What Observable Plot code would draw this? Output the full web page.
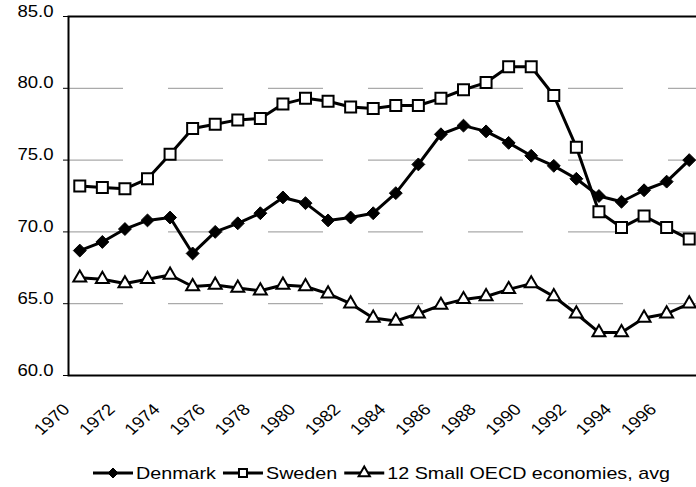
<!DOCTYPE html>
<html><head><meta charset="utf-8">
<script src="https://cdn.jsdelivr.net/npm/d3@7"></script>
<script src="https://cdn.jsdelivr.net/npm/@observablehq/plot@0.6"></script>
<style>
html,body{margin:0;padding:0;background:#fff;}
#chart{width:696px;height:487px;position:relative;overflow:hidden;font-family:"Liberation Sans",Arial,sans-serif;background:#fff;}
svg{display:block;}
</style></head><body><div id="chart"></div>
<script>
const years = [1970,1971,1972,1973,1974,1975,1976,1977,1978,1979,1980,1981,1982,1983,1984,1985,1986,1987,1988,1989,1990,1991,1992,1993,1994,1995,1996,1997];
const labelYears = [1970,1972,1974,1976,1978,1980,1982,1984,1986,1988,1990,1992,1994,1996];
const yTicks = [60,65,70,75,80,85];
const gridValues = [65,70,75,80];
const seriesNames = ["Denmark","Sweden","12 Small OECD economies, avg"];
const denmark = [68.7,69.3,70.2,70.8,71.0,68.5,70.0,70.6,71.3,72.4,72.0,70.8,71.0,71.3,72.7,74.7,76.8,77.4,77.0,76.2,75.3,74.6,73.7,72.5,72.1,72.9,73.5,75.0];
const sweden = [73.2,73.1,73.0,73.7,75.4,77.2,77.5,77.8,77.9,78.9,79.3,79.1,78.7,78.6,78.8,78.8,79.3,79.9,80.4,81.5,81.5,79.5,75.9,71.4,70.3,71.1,70.3,69.5];
const oecd = [66.8,66.7,66.4,66.7,67.0,66.2,66.3,66.1,65.9,66.3,66.2,65.7,65.0,64.0,63.8,64.3,64.9,65.3,65.5,66.0,66.4,65.5,64.3,63.0,63.0,64.0,64.3,65.0];

const seriesValues = [denmark, sweden, oecd];
const rows = [];
seriesNames.forEach((name, s) => years.forEach((yr, i) => rows.push({series: name, year: yr, value: seriesValues[s][i]})));

const STRETCH = 1.16;
const FONT = "'Liberation Sans', Arial, sans-serif";
const styles = [
  {symbol: "diamond2", r: 5.8, fill: "#000", strokeWidth: 1, legSym: d3.symbolDiamond2, legSize: 64},
  {symbol: "square", r: 6.2, fill: "#fff", strokeWidth: 2, legSym: d3.symbolSquare, legSize: 64},
  {symbol: "triangle", r: 4.8, fill: "#fff", strokeWidth: 2, legSym: d3.symbolTriangle, legSize: 55}
];

const seriesMarks = [];
seriesNames.forEach((name, s) => {
  const d = rows.filter(r => r.series === name);
  seriesMarks.push(Plot.line(d, {x: "year", y: "value", stroke: "#000", strokeWidth: 3}));
  seriesMarks.push(Plot.dot(d, {x: "year", y: "value", symbol: styles[s].symbol, r: styles[s].r, fill: styles[s].fill, stroke: "#000", strokeWidth: styles[s].strokeWidth}));
});

const plot = Plot.plot({
  width: 696, height: 440,
  marginLeft: 68, marginTop: 16, marginBottom: 65, marginRight: -4,
  style: {fontFamily: FONT, fontSize: "16px", color: "#000", background: "#fff", overflow: "visible"},
  x: {type: "linear", domain: [1969.5, 1997.5], label: null},
  y: {domain: [60, 85], label: null},
  marks: [
    Plot.ruleY(gridValues, {stroke: "#aaa", strokeWidth: 1.2, strokeDasharray: "55,45"}),
    Plot.axisY({ticks: yTicks, tickFormat: d => d.toFixed(1), tickSize: 5, tickPadding: 10, stroke: "#000", label: null}),
    Plot.axisX({ticks: labelYears, tickFormat: d => String(d), tickSize: 0, tickRotate: -45, tickPadding: 35, dx: -9, label: null}),
    ...seriesMarks,
    Plot.frame({stroke: "#000", strokeWidth: 2})
  ]
});

function stretchText(t) {
  let tr = t.getAttribute("transform") || "";
  const x = t.getAttribute("x"), y = t.getAttribute("y");
  if (x !== null || y !== null) {
    tr += ` translate(${+x || 0},${+y || 0})`;
    t.removeAttribute("x"); t.removeAttribute("y");
  }
  if (/rotate\(/.test(tr)) tr = tr.replace(/rotate\(/, `scale(${STRETCH},1) rotate(`);
  else tr += ` scale(${STRETCH},1)`;
  t.setAttribute("transform", tr.trim());
}
plot.querySelectorAll("text").forEach(stretchText);

const chart = document.getElementById("chart");
chart.appendChild(plot);

// legend below the plot
const leg = d3.create("svg").attr("width", 696).attr("height", 47)
  .style("font-family", FONT).style("font-size", "17px");
chart.appendChild(leg.node());
let cx = 93;
const ly = 33;
seriesNames.forEach((name, i) => {
  const g = leg.append("g");
  g.append("line").attr("x1", cx).attr("x2", cx + 40).attr("y1", ly).attr("y2", ly)
    .attr("stroke", "#000").attr("stroke-width", 3);
  g.append("path").attr("d", d3.symbol(styles[i].legSym, styles[i].legSize)())
    .attr("transform", `translate(${cx + 20},${ly})`)
    .attr("fill", styles[i].fill).attr("stroke", "#000").attr("stroke-width", styles[i].strokeWidth);
  const txt = g.append("text").attr("transform", `translate(${cx + 43},${ly}) scale(${STRETCH},1)`)
    .attr("dy", "0.35em").attr("fill", "#000").text(name);
  const w = txt.node().getComputedTextLength() * STRETCH;
  cx += 43 + w + 7;
});
</script></body></html>
